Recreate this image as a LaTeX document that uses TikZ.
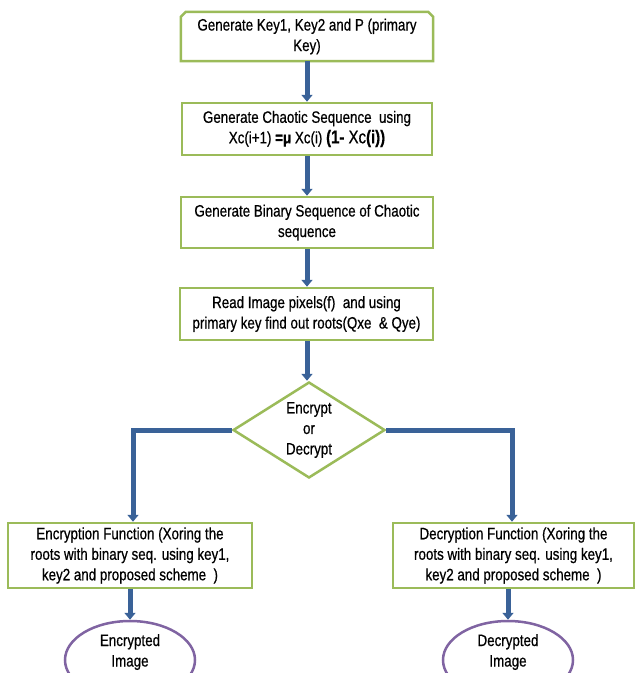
\documentclass[tikz,border=0pt]{standalone}
\usepackage{fontspec}
\setmainfont{Liberation Sans}[FakeStretch=0.81,FakeBold=0.6]
\usetikzlibrary{shapes.geometric,arrows.meta}
\definecolor{boxgreen}{RGB}{155,187,89}
\definecolor{flowblue}{RGB}{58,98,152}
\definecolor{ovalpurple}{RGB}{128,100,162}
\begin{document}
\begin{tikzpicture}[x=1pt,y=-1pt,
  font=\fontsize{16.5}{20.5}\selectfont,
  stepbox/.style={draw=boxgreen, line width=2.5pt, fill=white, inner sep=0pt, align=center},
  flow/.style={draw=flowblue, line width=5pt, -{Triangle[width=11pt,length=7pt]}},
  oval/.style={ellipse, draw=ovalpurple, line width=2.5pt, inner sep=0pt, minimum width=130pt, minimum height=78pt}]
\path[use as bounding box, clip] (0,0) rectangle (635,673);
\fill[white] (0,0) rectangle (635,673);

% box 1 (chamfered top corners)
\node[inner sep=0pt, minimum width=252pt, minimum height=49pt, align=center] (n1) at (307,36.5)
  {Generate Key1, Key2 and P (primary\\Key)};
\draw[draw=boxgreen, line width=2.5pt] (n1.south west) -- ([yshift=-5pt]n1.north west) -- ([xshift=5pt]n1.north west)
  -- ([xshift=-5pt]n1.north east) -- ([yshift=-5pt]n1.north east) -- (n1.south east) -- cycle;

\node[stepbox, minimum width=250pt, minimum height=52pt] (n2) at (307,129)
  {Generate Chaotic Sequence \ using\\Xc(i+1) \textbf{=μ} Xc(i) {\fontsize{18.5}{20.5}\selectfont\textbf{(1-} Xc\textbf{(i))}}};
\node[stepbox, minimum width=252pt, minimum height=51pt] (n3) at (307,222.5)
  {Generate Binary Sequence of Chaotic\\sequence};
\node[stepbox, minimum width=253pt, minimum height=52pt] (n4) at (306.5,314)
  {Read Image pixels(f) \ and using\\primary key find out roots(Qxe \ \& Qye)};
\node[diamond, draw=boxgreen, line width=2.5pt, inner sep=0pt, minimum width=152pt, minimum height=96pt,
  label={[align=center]center:Encrypt\\or\\Decrypt}] (d) at (309,430) {};

\node[stepbox, minimum width=244pt, minimum height=65pt] (enc) at (130,555.5)
  {Encryption Function (Xoring the\\roots with binary seq. using key1,\\key2 and proposed scheme \ )};
\node[stepbox, minimum width=241pt, minimum height=65pt] (dec) at (513.5,555.5)
  {Decryption Function (Xoring the\\roots with binary seq. using key1,\\key2 and proposed scheme \ )};

\node[oval, label={[align=center, yshift=8pt]center:Encrypted\\Image}] (eimg) at (130,660) {};
\node[oval, label={[align=center, yshift=8pt]center:Decrypted\\Image}] (dimg) at (508,660) {};

% connectors
\draw[flow] (n1.south) -- (n2.north);
\draw[flow] (n2.south) -- (n3.north);
\draw[flow] (n3.south) -- (n4.north -| n3.south);
\draw[flow] (n4.south -| n3.south) -- (d.north -| n3.south);
\draw[flow] (d.west) -| ([xshift=3pt]enc.north);
\draw[flow] (d.east) -| ([xshift=-1.5pt]dec.north);
\draw[flow] (enc.south) -- (eimg.north);
\draw[flow] (dec.south -| dimg.north) -- (dimg.north);
\end{tikzpicture}
\end{document}
